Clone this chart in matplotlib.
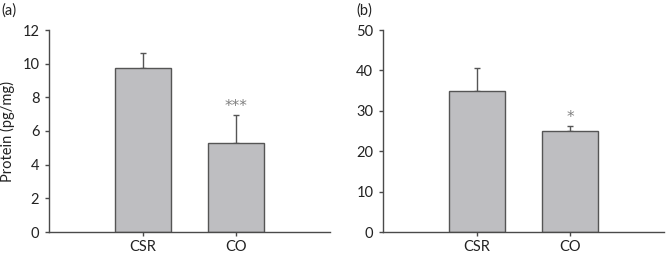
import matplotlib
matplotlib.use("Agg")
import matplotlib.pyplot as plt

plt.rcParams['font.family'] = ['Lato', 'DejaVu Sans']

categories = ["CSR", "CO"]
values_a = [9.73, 5.31]
errors_a = [0.92, 1.62]
stars_a = ["", "***"]
values_b = [35.0, 25.1]
errors_b = [5.6, 1.1]
stars_b = ["", "*"]
yticks_a = [0, 2, 4, 6, 8, 10, 12]
yticks_b = [0, 10, 20, 30, 40, 50]

W, H = 666, 256
fig = plt.figure(figsize=(W / 100, H / 100), dpi=100)

bar_face = "#bebec1"
edge = "#555555"
axis_col = "#4a4a4a"
text_col = "#222222"
FS = 10.5

def panel(rect, vals, errs, stars, yticks, ylabel=None):
    ax = fig.add_axes(rect)
    x = list(range(len(vals)))
    ax.bar(x, vals, width=0.6, color=bar_face, edgecolor=edge, linewidth=1.0, zorder=2)
    ax.errorbar(x, vals, yerr=[[0] * len(vals), errs], fmt='none', ecolor=edge,
                elinewidth=1.0, capsize=2.0, capthick=1.0, zorder=1)
    top = yticks[-1]
    for xi, v, e, s in zip(x, vals, errs, stars):
        if s:
            ax.text(xi, v + e + top * 0.008, s, ha='center', va='bottom', fontsize=11,
                    color="#808080", family='DejaVu Sans')
    ax.set_xlim(-1, 2)
    ax.set_ylim(0, top)
    ax.set_yticks(yticks)
    ax.set_yticklabels([str(t) for t in yticks])
    ax.set_xticks(x)
    ax.set_xticklabels(categories)
    for side in ['top', 'right']:
        ax.spines[side].set_visible(False)
    for side in ['left', 'bottom']:
        ax.spines[side].set_color(axis_col)
        ax.spines[side].set_linewidth(1.0)
    ax.tick_params(axis='y', direction='out', length=3, width=1.0, color=axis_col,
                   labelsize=FS, labelcolor=text_col, pad=4)
    ax.tick_params(axis='x', direction='out', length=3, width=1.0, color=axis_col,
                   labelsize=FS, labelcolor=text_col, pad=3)
    if ylabel:
        ax.set_ylabel(ylabel, fontsize=FS, color=text_col, labelpad=5)
    return ax

ax_a = panel([49 / W, 1 - 232 / H, 281 / W, 202 / H], values_a, errors_a, stars_a,
             yticks_a, ylabel="Protein (pg/mg)")
ax_b = panel([383 / W, 1 - 232 / H, 281 / W, 202 / H], values_b, errors_b, stars_b,
             yticks_b)

fig.text(1 / W, 1 - 11 / H, "(a)", fontsize=FS, color=text_col, va='center', ha='left')
fig.text(356 / W, 1 - 11 / H, "(b)", fontsize=FS, color=text_col, va='center', ha='left')

fig.savefig("out.png", dpi=100)
